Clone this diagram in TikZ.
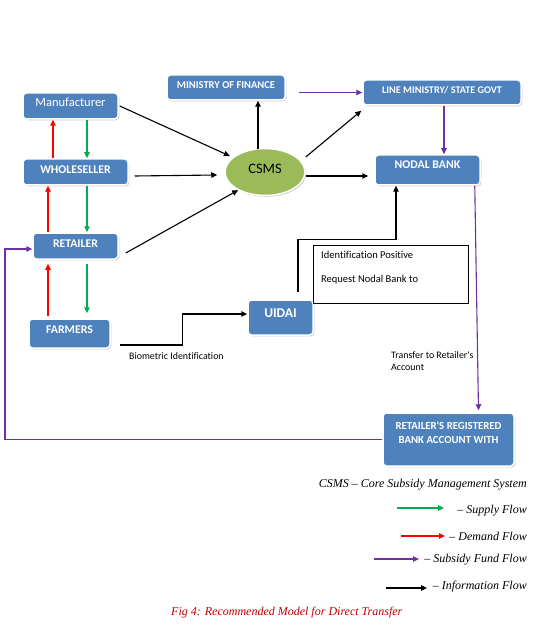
\documentclass[tikz,border=0pt]{standalone}
\usepackage{fontspec}
\setmainfont{Liberation Serif}
\newfontfamily\calfont{Carlito}[Ligatures=NoCommon]
\usetikzlibrary{arrows.meta,shapes.geometric,shadows,calc}
\definecolor{boxblue}{HTML}{4F81BD}
\definecolor{csmsgreen}{HTML}{9BBB59}
\definecolor{supg}{HTML}{00B050}
\definecolor{demr}{HTML}{FF0000}
\definecolor{fundp}{HTML}{7030A0}
\definecolor{capred}{HTML}{C00000}
\begin{document}
\begin{tikzpicture}[x=1pt,y=-1pt,
  tip/.tip={Triangle[length=6pt,width=5.5pt]},
  box/.style={rectangle, rounded corners=3.5pt, fill=boxblue, draw=white, line width=1.5pt,
    drop shadow={shadow xshift=1.3pt,shadow yshift=-1.3pt,opacity=0.4},
    text=white, font=\calfont\bfseries\fontsize{11.8}{14}\selectfont, inner sep=0pt, align=center},
  raised/.style={text height=7.6pt, text depth=#1},
  info/.style={draw=black, line width=1.1pt, -tip},
  supply/.style={draw=supg, line width=1.1pt, -tip},
  demand/.style={draw=demr, line width=1.1pt, -tip},
  fund/.style={draw=fundp, line width=1.1pt, -tip},
  small/.style={font=\calfont\fontsize{9.9}{12}\selectfont, inner sep=0pt},
  legend/.style={font=\itshape\fontsize{12}{14}\selectfont, inner sep=0pt, anchor=east}
]
\useasboundingbox (0,0) rectangle (550,628);
\fill[white] (0,0) rectangle (550,628);

% boxes
\node[box, raised=6pt, minimum width=95, minimum height=26, font=\calfont\fontsize{12.5}{14}\selectfont] (man) at (70.5,106) {Manufacturer};
\node[box, raised=5pt, minimum width=105, minimum height=26] (whole) at (75.5,172) {WHOLESELLER};
\node[box, raised=5pt, minimum width=85, minimum height=26] (ret) at (75.5,246) {RETAILER};
\node[box, raised=7pt, minimum width=81, minimum height=29] (farm) at (69.5,333.5) {FARMERS};
\node[box, raised=5pt, minimum width=118, minimum height=25, font=\calfont\bfseries\fontsize{10.5}{12}\selectfont] (mof) at (226,87.5) {MINISTRY OF FINANCE};
\node[box, raised=5pt, minimum width=158, minimum height=25, font=\calfont\bfseries\fontsize{10.2}{12}\selectfont] (lm) at (442,92.5) {LINE MINISTRY/ STATE GOVT};
\node[box, raised=10pt, minimum width=105, minimum height=30] (nodal) at (427.5,170) {NODAL BANK};
\node[box, text height=8.7pt, text depth=9pt, minimum width=65, minimum height=35, font=\calfont\bfseries\fontsize{13.5}{15}\selectfont] (uidai) at (280.5,317.5) {UIDAI};
\node[box, minimum width=131, minimum height=53, font=\calfont\bfseries\fontsize{10.8}{14}\selectfont] (bank) at (448.5,439.5) {RETAILER'S REGISTERED\\BANK ACCOUNT WITH\\ };
\node[ellipse, fill=csmsgreen, draw=white, line width=1.5pt, minimum width=80, minimum height=47, inner sep=0pt,
  drop shadow={shadow xshift=1.3pt,shadow yshift=-1.3pt,opacity=0.4},
  text height=9.3pt, text depth=6pt,
  font=\calfont\fontsize{14.5}{16}\selectfont] (csms) at (265,172) {CSMS};

% text box
\node[draw=black, line width=1pt, minimum width=155, minimum height=58, anchor=north west, inner sep=0pt] (tbox) at (313,245) {};
\node[small, font=\calfont\fontsize{10.5}{12}\selectfont, anchor=west] (t1) at ($(tbox.north west)+(8,10)$) {Identification Positive};
\node[small, font=\calfont\fontsize{10.5}{12}\selectfont, anchor=west] (t2) at ($(tbox.north west)+(8,35)$) {Request Nodal Bank to};

% labels
\node[small, anchor=west] (bio) at (129,356) {Biometric Identification};
\node[small, anchor=north west, align=left] (trans) at (391,351) {Transfer to Retailer's\\Account};

% supply / demand
\draw[demand] ([xshift=-22.5pt]whole.north) -- ([xshift=-22.5pt]whole.north |- man.south);
\draw[supply] ([xshift=16.5pt]man.south) -- ([xshift=16.5pt]man.south |- whole.north);
\draw[demand] ([xshift=-27.5pt]ret.north) -- ([xshift=-27.5pt]ret.north |- whole.south);
\draw[supply] ([xshift=11.5pt]whole.south) -- ([xshift=11.5pt]whole.south |- ret.north);
\draw[demand] ([xshift=-21.5pt,yshift=2pt]farm.north) -- ([xshift=-21.5pt,yshift=-4pt]farm.north |- ret.south);
\draw[supply] ([xshift=11.5pt,yshift=-4pt]ret.south) -- ([xshift=17.5pt,yshift=5pt]farm.north);

% information
\coordinate (cn) at ($(csms.north)+(-7,1)$);
\draw[info, shorten >=3pt] ([xshift=1pt]man.east) -- (csms);
\draw[info] ([xshift=6pt,yshift=-4pt]whole.east) -- ([xshift=-7pt,yshift=-3pt]csms.west);
\draw[info] ([xshift=7pt,yshift=-7pt]ret.east) -- ([xshift=2pt,yshift=-1pt]csms.south west);
\draw[info] (cn) -- (cn |- mof.south);
\draw[info] ($(csms.east)+(0,-15)$) -- ($(lm.south west)+(-1,5)$);
\draw[info] ([yshift=-4pt]csms.east) -- ([xshift=-6pt,yshift=-6pt]nodal.west);
\draw[info] ([xshift=9pt,yshift=-11.5pt]farm.east) -- ++(63,0) |- ([yshift=3.5pt]uidai.west);
\draw[info] ([xshift=17.5pt,yshift=7pt]uidai.north) -- ++(0,-53) -| ([xshift=-31.5pt]nodal.south);

% subsidy fund
\draw[fund] ([xshift=13pt]mof.east |- lm.west) -- (lm.west);
\draw[fund] ([xshift=2pt]lm.south) -- ([xshift=2pt]lm.south |- nodal.north);
\draw[fund] ([xshift=-6pt]nodal.south east) -- ([xshift=30pt,yshift=2pt]bank.north);
\coordinate (lc) at (5,439.5);
\draw[fund] (bank.west) -- (lc) |- ([yshift=-3pt]ret.west);

% legend
\node[legend] (lg0) at (527,485) {CSMS -- Core Subsidy Management System};
\node[legend] (lg1) at (527,511) {-- Supply Flow};
\node[legend] (lg2) at (527,536) {-- Demand Flow};
\node[legend] (lg3) at (527,560) {-- Subsidy Fund Flow};
\node[legend] (lg4) at (527,587) {-- Information Flow};
\coordinate (s1) at (397,508); \coordinate (e1) at (444,508);
\coordinate (s2) at (401,536); \coordinate (e2) at (445,536);
\coordinate (s3) at (374,559); \coordinate (e3) at (419,559);
\coordinate (s4) at (386,588); \coordinate (e4) at (427,588);
\draw[supply] (s1) -- (e1);
\draw[demand] (s2) -- (e2);
\draw[fund] (s3) -- (e3);
\draw[info] (s4) -- (e4);

\node[font=\itshape\fontsize{12}{14}\selectfont, text=capred, inner sep=0pt, anchor=west] (cap) at (171,613) {Fig 4: Recommended Model for Direct Transfer};
\end{tikzpicture}
\end{document}
